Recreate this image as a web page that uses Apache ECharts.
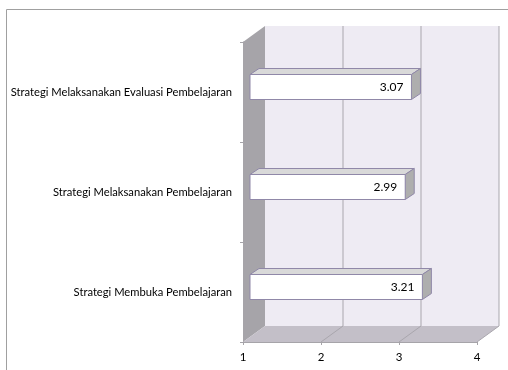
<!DOCTYPE html>
<html>
<head>
<meta charset="utf-8">
<script src="https://cdn.jsdelivr.net/npm/echarts@6/dist/echarts.min.js"></script>
<style>
	html, body { margin: 0; padding: 0; background: #fff; }
	#chart { width: 508px; height: 370px; }
</style>
</head>
<body>
<div id="chart"></div>
<script>
// kategori dari bawah ke atas
var categories = ['Strategi Membuka Pembelajaran', 'Strategi Melaksanakan Pembelajaran', 'Strategi Melaksanakan Evaluasi Pembelajaran'];
var scores = [3.21, 2.99, 3.07];
var valueTicks = [1, 2, 3, 4];

// kedalaman 3D (px)
var DX = 22, DY = -16;
var BAR_OFF_X = 7, BAR_OFF_Y = -5, BAR_DX = 9, BAR_DY = -6;

var myChart = echarts.init(document.getElementById('chart'));

function renderWalls(params, api) {
	var cs = params.coordSys;
	var x = cs.x, y = cs.y, w = cs.width, h = cs.height;
	var children = [
		// dinding belakang
		{ type: 'rect', shape: { x: x + DX, y: y + DY, width: w, height: h }, style: { fill: '#eeebf3' } },
		// dinding kiri
		{ type: 'polygon', shape: { points: [[x, y], [x + DX, y + DY], [x + DX, y + h + DY], [x, y + h]] }, style: { fill: '#a6a4a9' } },
		// lantai
		{ type: 'polygon', shape: { points: [[x, y + h], [x + DX, y + h + DY], [x + w + DX, y + h + DY], [x + w, y + h]] }, style: { fill: '#c3bfc8' } }
	];
	for (var i = 1; i < valueTicks.length; i++) {
		var vx = api.coord([valueTicks[i], 0])[0];
		children.push({ type: 'line', shape: { x1: vx + DX, y1: y + DY, x2: vx + DX, y2: y + h + DY }, style: { stroke: '#a9a6ad', lineWidth: 1 } });
		children.push({ type: 'line', shape: { x1: vx, y1: y + h, x2: vx + DX, y2: y + h + DY }, style: { stroke: '#a9a6ad', lineWidth: 1 } });
	}
	return { type: 'group', children: children };
}

function renderBar(params, api) {
	var p0 = api.coord([valueTicks[0], api.value(1)]);
	var p1 = api.coord([api.value(0), api.value(1)]);
	var bh = api.size([0, 1])[1] * 0.25;
	var x = p0[0] + BAR_OFF_X;
	var y = p0[1] + BAR_OFF_Y - bh / 2;
	var w = p1[0] - p0[0];
	var border = '#9088a8';
	return {
		type: 'group',
		children: [
			{ type: 'polygon', shape: { points: [[x, y], [x + BAR_DX, y + BAR_DY], [x + w + BAR_DX, y + BAR_DY], [x + w, y]] }, style: { fill: '#d9d9d9', stroke: border, lineWidth: 1 } },
			{ type: 'polygon', shape: { points: [[x + w, y], [x + w + BAR_DX, y + BAR_DY], [x + w + BAR_DX, y + bh + BAR_DY], [x + w, y + bh]] }, style: { fill: '#aeaeae', stroke: border, lineWidth: 1 } },
			{ type: 'rect', shape: { x: x, y: y, width: w, height: bh }, style: { fill: '#ffffff', stroke: border, lineWidth: 1 } },
			{ type: 'text', x: x + w - 8, y: y + bh / 2, style: { text: api.value(0).toFixed(2), fill: '#000', font: '12px Lato', align: 'right', verticalAlign: 'middle' } }
		]
	};
}

var option = {
	animation: false,
	grid: { left: 243, right: 31, top: 42, bottom: 28 },
	graphic: [
		{ type: 'polyline', shape: { points: [[6.5, 370], [6.5, 9.5], [508, 9.5]] }, style: { stroke: '#a0a0a0', lineWidth: 1, fill: null }, z: 0 }
	],
	xAxis: {
		type: 'value',
		min: 1,
		max: 4,
		interval: 1,
		splitLine: { show: false },
		axisLine: { show: true, lineStyle: { color: '#a6a4a9' } },
		axisTick: { show: true, length: 3, lineStyle: { color: '#a6a4a9' } },
		axisLabel: { color: '#000', fontSize: 11.5, fontFamily: 'Lato', margin: 9 }
	},
	yAxis: {
		type: 'category',
		data: categories,
		axisLine: { show: true, lineStyle: { color: '#a6a4a9' } },
		axisTick: { show: true, length: 3, lineStyle: { color: '#a6a4a9' } },
		axisLabel: { color: '#000', fontSize: 11.2, fontFamily: 'Lato', margin: 11 }
	},
	series: [
		{ type: 'custom', name: 'walls', renderItem: renderWalls, data: [[1, 0]], silent: true, z: 1 },
		{ type: 'custom', name: 'skor', renderItem: renderBar, encode: { x: 0, y: 1 }, data: scores.map(function (v, i) { return [v, i]; }), z: 5 }
	]
};
myChart.setOption(option);
</script>
</body>
</html>
